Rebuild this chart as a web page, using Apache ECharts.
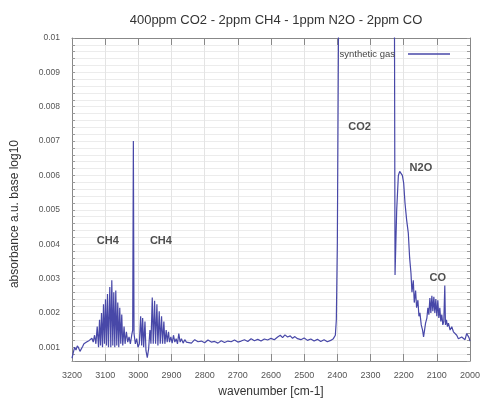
<!DOCTYPE html>
<html>
<head>
<meta charset="utf-8">
<script src="https://cdn.jsdelivr.net/npm/echarts@6/dist/echarts.min.js"></script>
<style>html,body{margin:0;padding:0;background:#fff}#c{width:481px;height:399px}</style>
</head>
<body>
<div id="c"></div>
<script>
var title = '400ppm CO2 - 2ppm CH4 - 1ppm N2O - 2ppm CO';
var seriesName = 'synthetic gas';
var xTitle = 'wavenumber [cm-1]';
var yTitle = 'absorbance a.u. base log10';

var wavenumbers = [
3200,3196,3192,3188,3184,3180,3176,3172,3168,3164,3160,3156,3152,3148,3144,3140,3136,3132,3128,3124,
3120,3117,3114,3111,3108,3105,3102,3099,3096,3093,3090,3086,3083,3080,3077,3074,3071,3068,3065,3062,
3059,3056,3053,3050,3047,3043,3040,3036,3032,3028,3024,3020,3017,3015,3013,3009,3005,3001,2997,2993,
2990,2987,2984,2980,2977,2973,2969,2965,2962,2958,2955,2951,2948,2944,2941,2937,2934,2930,2927,2923,
2920,2916,2913,2909,2906,2902,2898,2894,2890,2886,2882,2878,2874,2870,2865,2860,2855,2850,2840,2830,
2820,2810,2800,2790,2780,2770,2760,2750,2740,2730,2720,2710,2700,2690,2680,2670,2660,2650,2640,2630,
2620,2610,2600,2590,2580,2572,2565,2558,2550,2542,2535,2528,2520,2510,2500,2490,2480,2470,2460,2450,
2440,2430,2420,2412,2406,2403,2400,2391,2300,2230,2226,2221,2216,2212,2208,2204,2200,2196,2191,2186,
2182,2178,2175,2171,2168,2164,2161,2157,2154,2151,2147,2143,2140,2137,2134,2130,2127,2124,2121,2118,
2115,2112,2109,2106,2103,2100,2097,2094,2091,2088,2085,2082,2079,2076,2074,2071,2068,2065,2060,2055,
2050,2045,2040,2035,2030,2025,2020,2015,2010,2007,2003,2000
];
var absorbance = [
0.00068,0.00085,0.00100,0.00092,0.00104,0.00098,0.00088,0.00090,0.00102,0.00110,0.00106,0.00115,0.00112,0.00120,0.00118,0.00126,0.00115,0.00135,0.00110,0.00160,
0.00100,0.00180,0.00105,0.00200,0.00100,0.00225,0.00110,0.00240,0.00105,0.00255,0.00100,0.00275,0.00100,0.00295,0.00105,0.00260,0.00100,0.00265,0.00105,0.00230,
0.00100,0.00215,0.00110,0.00195,0.00105,0.00160,0.00110,0.00145,0.00115,0.00130,0.00110,0.00135,0.00150,0.00700,0.00140,0.00110,0.00125,0.00100,0.00110,0.00190,
0.00105,0.00185,0.00100,0.00175,0.00090,0.00070,0.00095,0.00150,0.00110,0.00245,0.00110,0.00235,0.00110,0.00225,0.00105,0.00205,0.00110,0.00190,0.00110,0.00175,
0.00110,0.00150,0.00115,0.00145,0.00115,0.00130,0.00112,0.00135,0.00115,0.00125,0.00110,0.00140,0.00115,0.00125,0.00112,0.00122,0.00115,0.00120,0.00112,0.00122,
0.00116,0.00118,0.00113,0.00121,0.00115,0.00117,0.00112,0.00119,0.00114,0.00118,0.00116,0.00121,0.00115,0.00118,0.00122,0.00117,0.00125,0.00119,0.00123,0.00118,
0.00124,0.00121,0.00126,0.00122,0.00130,0.00135,0.00128,0.00136,0.00130,0.00133,0.00126,0.00131,0.00125,0.00122,0.00127,0.00120,0.00124,0.00118,0.00123,0.00117,
0.00122,0.00116,0.00120,0.00125,0.00135,0.00180,0.00400,0.02000,0.02000,0.02000,0.00310,0.00500,0.00600,0.00612,0.00610,0.00600,0.00578,0.00520,0.00470,0.00432,
0.00360,0.00316,0.00260,0.00295,0.00230,0.00265,0.00215,0.00237,0.00190,0.00200,0.00165,0.00150,0.00130,0.00150,0.00170,0.00185,0.00215,0.00195,0.00243,0.00200,
0.00250,0.00205,0.00247,0.00200,0.00240,0.00190,0.00237,0.00185,0.00215,0.00175,0.00195,0.00165,0.00175,0.00280,0.00165,0.00180,0.00160,0.00170,0.00150,0.00160,
0.00145,0.00140,0.00135,0.00125,0.00120,0.00130,0.00128,0.00122,0.00140,0.00145,0.00128,0.00118
];

var annotationNames = ['CH4','CH4','CO2','N2O','CO'];
var annotationX = [3092, 2932, 2333, 2148, 2097];
var annotationY = [0.0041, 0.0041, 0.00742, 0.00623, 0.00303];

var yTickLabels = ['0.001','0.002','0.003','0.004','0.005','0.006','0.007','0.008','0.009','0.01'];

var lineData = wavenumbers.map(function(w, i){ return [w, absorbance[i]]; });
var annData = annotationNames.map(function(n, i){ return {name: n, value: [annotationX[i], annotationY[i]]}; });

var font = 'Liberation Sans, Arial, sans-serif';
var chart = echarts.init(document.getElementById('c'), null, {renderer: 'canvas'});

function yLabel(v){
  var k = Math.round(v * 1000);
  if (Math.abs(v * 1000 - k) > 1e-6) return '';
  var s = String(k / 1000);
  return yTickLabels.indexOf(s) >= 0 ? s : '';
}

chart.setOption({
  animation: false,
  backgroundColor: '#fff',
  title: {
    text: title, left: 271, top: 9, textAlign: 'center',
    textStyle: {fontFamily: font, fontSize: 13, fontWeight: 'normal', color: '#333'}
  },
  legend: {
    data: [seriesName], right: 26, top: 44, align: 'right', icon: 'rect', itemWidth: 42, itemHeight: 1.5,
    itemGap: 4,
    textStyle: {fontFamily: font, fontSize: 9.5, color: '#444', padding: [0, 8, 0, 0]}
  },
  graphic: [{
    type: 'text', left: 9, top: 140, rotation: Math.PI / 2,
    style: {text: yTitle, font: '12px ' + font, fill: '#333', textAlign: 'center', textVerticalAlign: 'middle'}
  }],
  grid: {left: 72, right: 11, top: 38, bottom: 38, containLabel: false, outerBoundsMode: 'none'},
  xAxis: [{
    type: 'value', min: 2000, max: 3200, interval: 100, inverse: true,
    name: xTitle, nameLocation: 'middle', nameGap: 25,
    nameTextStyle: {fontFamily: font, fontSize: 12, color: '#333'},
    axisLine: {show: true, lineStyle: {color: '#888', width: 1}},
    axisTick: {show: true, inside: true, length: 7, lineStyle: {color: '#888'}},
    axisLabel: {fontFamily: font, fontSize: 9, color: '#555', margin: 10, formatter: function(v){ return String(v); }},
    splitLine: {show: true, lineStyle: {color: '#e4e4e4', width: 1}}
  }, {
    type: 'value', min: 2000, max: 3200, interval: 100, inverse: true, position: 'top',
    axisLine: {show: true, lineStyle: {color: '#888', width: 1}},
    axisTick: {show: true, inside: true, length: 7, lineStyle: {color: '#888'}},
    axisLabel: {show: false}, splitLine: {show: false}
  }],
  yAxis: [{
    type: 'value', min: 0.0006, max: 0.01, interval: 0.0002,
    axisLine: {show: true, lineStyle: {color: '#888', width: 1}},
    axisTick: {show: true, inside: true, length: 3, lineStyle: {color: '#999'}},
    axisLabel: {fontFamily: font, fontSize: 8.5, color: '#555', margin: 12, formatter: yLabel, showMinLabel: true, showMaxLabel: true, hideOverlap: false},
    splitLine: {show: true, lineStyle: {color: '#ececec', width: 1}}
  }, {
    type: 'value', min: 0.0006, max: 0.01, interval: 0.0002, position: 'right',
    axisLine: {show: true, lineStyle: {color: '#888', width: 1}},
    axisTick: {show: true, inside: true, length: 3, lineStyle: {color: '#999'}},
    axisLabel: {show: false}, splitLine: {show: false}
  }],
  series: [{
    name: seriesName, type: 'line', data: lineData, xAxisIndex: 0, yAxisIndex: 0,
    symbol: 'none', showSymbol: false, clip: true,
    lineStyle: {color: '#4848a8', width: 1.2},
    itemStyle: {color: '#4848a8'},
    z: 3
  }, {
    name: 'labels', type: 'scatter', data: annData, xAxisIndex: 0, yAxisIndex: 0,
    symbolSize: 1, itemStyle: {color: 'rgba(0,0,0,0)'}, silent: true,
    label: {show: true, position: 'inside', formatter: '{b}', fontFamily: font, fontSize: 11, fontWeight: 'bold', color: '#222'},
    z: 4
  }]
});
</script>
</body>
</html>
